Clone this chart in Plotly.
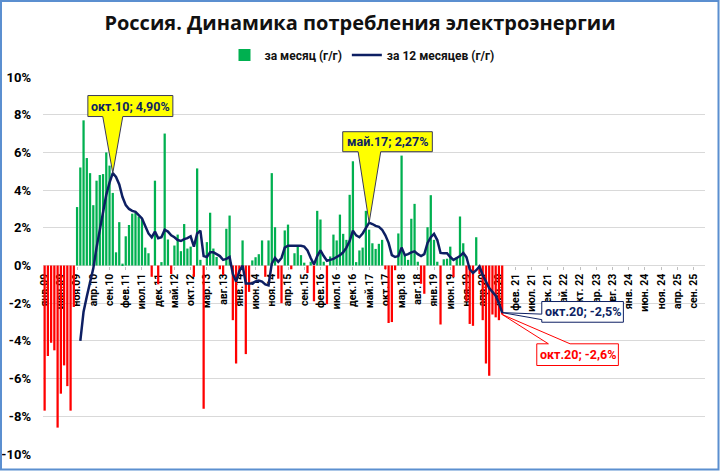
import plotly.graph_objects as go

# ---------------- DATA ----------------
# Monthly change y/y, %, Jan 2009 .. Oct 2020
monthly = [
    -7.7, -4.8, -4.1, -4.5, -8.6, -6.8, -5.3, -6.4, -7.7, -2.2, 3.1, 5.2,      # 2009
    7.7, 5.7, 4.9, 3.2, 4.5, 4.8, 4.85, 6.0, 5.3, 3.85, 0.7, 2.3,            # 2010
    0.1, 1.55, 2.15, 2.75, 2.8, 2.6, 2.5, 0.95, 0.65, -0.6, 4.5, -1.0,       # 2011
    0.18, 7.0, 1.38, -0.45, 1.06, 1.64, 0.76, 2.2, 0.9, 1.0, -0.6, 5.15,     # 2012
    0.3, -7.6, 1.24, 2.8, 0.9, 0.45, -0.2, -0.5, 1.95, 2.65, -2.9, -5.2,     # 2013
    -0.45, 1.33, -4.7, -1.4, 0.27, 0.44, 0.6, 1.33, -0.6, 1.33, 4.9, 2.03,   # 2014
    -0.7, -2.0, 1.86, 2.17, -0.2, 0.65, 1.05, 0.55, 0.15, -0.4, 0.2, -1.9,   # 2015
    2.9, 2.44, 0.2, -2.05, 0.48, 1.64, 1.33, 2.7, 1.68, 1.36, 3.75, 5.53,    # 2016
    0.18, 0.8, 0.95, 2.9, 1.9, 1.18, 0.88, 1.15, 1.36, -0.2, -3.05, -3.0,    # 2017
    -0.25, 1.7, 5.83, 0.53, 0.3, 2.48, 3.27, 0.2, -0.97, -1.5, 2.03, 3.73,   # 2018
    1.36, 0.2, -3.13, 0.33, 0.36, 1.0, -0.62, 0.44, 2.6, 1.18, -1.9, -3.1,   # 2019
    -3.2, 1.5, -0.45, -2.9, -5.2, -5.85, -2.6, -2.75, -2.9, -2.6,            # 2020
]

# 12-month rolling change, %, starts Dec 2009
rolling12 = [None] * 11 + [
    -4.0,                                                                     # 2009-12
    -2.45, -1.65, -0.9, -0.15, 0.95, 1.95, 2.9, 3.75, 4.4, 4.9, 4.7, 4.3,    # 2010
    3.63, 3.2, 3.0, 2.9, 2.85, 2.65, 2.5, 2.1, 1.7, 1.5, 1.8, 1.45,          # 2011
    1.5, 1.9, 1.8, 1.6, 1.5, 1.35, 1.3, 1.4, 1.45, 1.55, 1.0, 1.7,           # 2012
    1.85, 0.5, 0.45, 0.7, 0.7, 0.6, 0.5, 0.3, 0.35, 0.45, -0.45, -0.85,      # 2013
    -0.3, 0.0, -0.95, -0.95, -0.95, -0.85, -0.8, -0.85, -1.0, -1.05, 0.1, 0.4,  # 2014
    0.2, 0.4, 0.95, 1.05, 1.05, 1.05, 1.05, 1.05, 1.0, 0.8, 0.4, 0.05,       # 2015
    0.5, 0.8, 0.5, 0.25, 0.3, 0.35, 0.45, 0.55, 0.7, 0.95, 1.3, 1.85,        # 2016
    1.6, 1.5, 1.7, 2.0, 2.27, 2.2, 2.1, 2.05, 1.9, 1.6, 1.2, 0.55,           # 2017
    0.45, 0.5, 0.95, 0.55, 0.6, 0.7, 0.75, 0.6, 0.5, 0.6, 1.2, 1.5,          # 2018
    1.68, 1.35, 0.67, 0.65, 0.65, 0.45, 0.3, 0.4, 0.5, 0.67, 0.44, -0.2,     # 2019
    -0.4, -0.25, -0.05, -0.5, -0.85, -1.2, -1.4, -1.6, -2.0, -2.5,           # 2020
]

n_months_axis = 204  # Jan 2009 .. Dec 2025
tick_step = 5
tick_labels = [
    "янв.09", "июн.09", "ноя.09", "апр.10", "сен.10", "фев.11", "июл.11", "дек.11",
    "май.12", "окт.12", "мар.13", "авг.13", "янв.14", "июн.14", "ноя.14", "апр.15",
    "сен.15", "фев.16", "июл.16", "дек.16", "май.17", "окт.17", "мар.18", "авг.18",
    "янв.19", "июн.19", "ноя.19", "апр.20", "сен.20", "фев. 21", "июл. 21", "дек. 21",
    "май. 22", "окт. 22", "мар. 23", "авг. 23", "янв. 24", "июн. 24", "ноя. 24",
    "апр. 25", "сен. 25",
]
y_ticks = [10, 8, 6, 4, 2, 0, -2, -4, -6, -8, -10]
y_tick_labels = ["10%", "8%", "6%", "4%", "2%", "0%", "-2%", "-4%", "-6%", "-8%", "-10%"]

title_text = "Россия. Динамика потребления электроэнергии"
name_month = "за месяц (г/г)"
name_12m = "за 12 месяцев (г/г)"

# callouts: (month index, series, label)
callouts = [
    (21, "line", "окт.10; 4,90%"),
    (100, "line", "май.17; 2,27%"),
    (141, "line", "окт.20; -2,5%"),
    (141, "bar", "окт.20; -2,6%"),
]

# ---------------- STYLE ----------------
GREEN = "#00b050"
RED = "#ff0000"
NAVY = "#0d1f63"
GRID = "#d9d9d9"
FONT = "Roboto, 'Open Sans', sans-serif"

W, H = 720, 471
ML, MR, MT, MB = 43, 15, 77, 17
pw, ph = W - ML - MR, H - MT - MB


def px_x(px):
    return (px - ML) / pw


def px_y(py):
    return (H - MB - py) / ph


x_idx = list(range(len(monthly)))
pos_vals = [v if v >= 0 else None for v in monthly]
neg_vals = [v if v < 0 else None for v in monthly]

fig = go.Figure()
fig.add_trace(go.Bar(x=x_idx, y=pos_vals, name=name_month, marker_color=GREEN,
                     marker_line_width=0, hoverinfo="skip"))
fig.add_trace(go.Bar(x=x_idx, y=neg_vals, name=name_month, marker_color=RED,
                     marker_line_width=0, showlegend=False, hoverinfo="skip"))
fig.add_trace(go.Scatter(x=list(range(len(rolling12))), y=rolling12, name=name_12m,
                         mode="lines", line=dict(color=NAVY, width=2.5),
                         connectgaps=False, hoverinfo="skip"))

tick_vals = list(range(0, n_months_axis, tick_step))[:len(tick_labels)]

# callout geometry (pixels relative to the pointed data value; y up)
callout_style = {
    "окт.10; 4,90%": dict(
        path="M0,0 L-10,56.6 L-24.9,56.6 L-24.9,77.6 L60.1,77.6 L60.1,56.6 L10,56.6 Z",
        fill="#ffff00", line="#3a3a5a", text=NAVY, dx=17.6, dy=67.1),
    "май.17; 2,27%": dict(
        path="M0,0 L-11,71 L-26.4,71 L-26.4,91 L63.2,91 L63.2,71 L11.6,71 Z",
        fill="#ffff00", line="#3a3a5a", text=NAVY, dx=18.4, dy=81),
    "окт.20; -2,5%": dict(
        path="M0,0 L39.6,-1.5 L39.6,11.1 L121.2,11.1 L121.2,-9.6 L39.6,-9.6 L39.6,-7 Z",
        fill="#ffffff", line=NAVY, text=NAVY, dx=80.4, dy=0.75),
    "окт.20; -2,6%": dict(
        path="M0,0 L46.2,-29.3 L34.6,-29.3 L34.6,-51 L116.2,-51 L116.2,-29.3 L67.9,-29.3 Z",
        fill="#ffffff", line=RED, text=RED, dx=75.4, dy=-40.15),
}

shapes = []
annotations = []
for idx, series, label in callouts:
    val = rolling12[idx] if series == "line" else monthly[idx]
    st = callout_style[label]
    shapes.append(dict(type="path", xref="x", yref="y", xsizemode="pixel", ysizemode="pixel",
                       xanchor=idx, yanchor=val, path=st["path"],
                       fillcolor=st["fill"], line=dict(color=st["line"], width=1), layer="above"))
    annotations.append(dict(x=idx, y=val, xref="x", yref="y", xshift=st["dx"], yshift=st["dy"],
                            text=label, showarrow=False,
                            font=dict(family=FONT, size=12.5, color=st["text"], weight="bold")))

# outer blue frame
shapes.append(dict(type="rect", xref="paper", yref="paper",
                   x0=px_x(1), x1=px_x(W - 1.5), y0=px_y(H - 1.5), y1=px_y(1),
                   line=dict(color="#5b8fd0", width=2), fillcolor="rgba(0,0,0,0)", layer="above"))

fig.update_layout(
    width=W, height=H,
    margin=dict(l=ML, r=MR, t=MT, b=MB, pad=0, autoexpand=False),
    paper_bgcolor="white", plot_bgcolor="white",
    barmode="overlay", bargap=0.3,
    title=dict(text=title_text, x=0.5, xref="container", xanchor="center",
               y=1 - 23 / H, yref="container", yanchor="middle", automargin=False,
               font=dict(family="'Open Sans', sans-serif", size=20, color="#111111", weight="bold")),
    legend=dict(orientation="h", x=px_x(362), xref="paper", xanchor="center",
                y=px_y(55), yref="paper", yanchor="middle",
                font=dict(family=FONT, size=12, color="#111111", weight="bold"),
                itemwidth=30, bgcolor="rgba(0,0,0,0)", traceorder="normal"),
    xaxis=dict(range=[-0.5, n_months_axis - 0.5], anchor="free", position=0.5,
               tickmode="array", tickvals=tick_vals, ticktext=tick_labels,
               tickangle=-90, tickfont=dict(family=FONT, size=10.5, color="#000000", weight="bold"),
               showgrid=False, zeroline=False, showline=False, automargin=False,
               ticks="outside", ticklen=3, tickcolor="#bfbfbf", layer="below traces",
               fixedrange=True),
    yaxis=dict(range=[-10, 10], tickmode="array", tickvals=y_ticks, ticktext=y_tick_labels,
               tickfont=dict(family=FONT, size=13, color="#000000", weight="bold"),
               showgrid=True, gridcolor=GRID, gridwidth=1, zeroline=False, showline=False,
               automargin=False, ticklabelstandoff=11, fixedrange=True),
    shapes=shapes,
    annotations=annotations,
    showlegend=True,
)

fig.write_html("out.html")
